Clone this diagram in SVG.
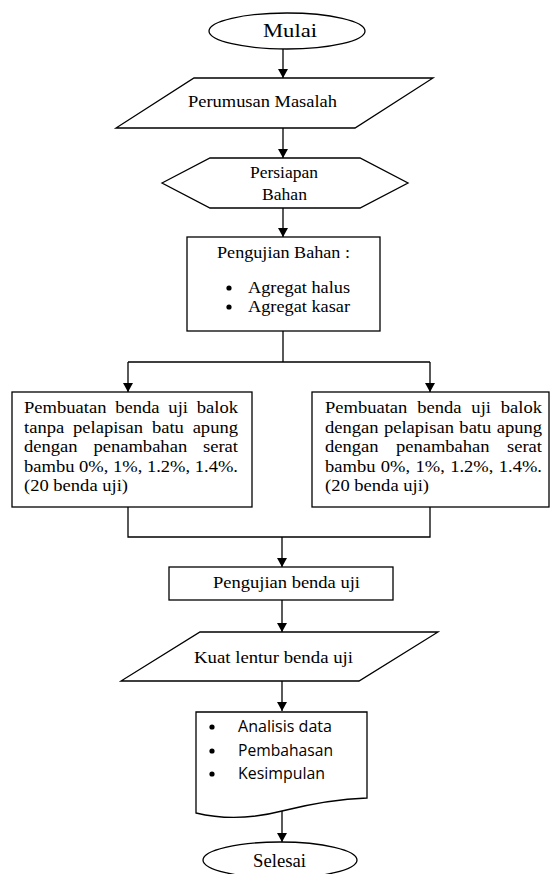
<svg xmlns="http://www.w3.org/2000/svg" width="550" height="874" viewBox="0 0 550 874">
<defs>
<marker id="arr" markerUnits="userSpaceOnUse" markerWidth="9" markerHeight="10" viewBox="0 0 9 10" refX="9" refY="5" orient="auto">
<path d="M0,0 L9,5 L0,10 z" fill="#000"/>
</marker>
</defs>
<style>
.shape{fill:#fff;stroke:#000;stroke-width:1.3}
.t{font-family:"Liberation Serif","Times New Roman",serif;font-size:17px;fill:#000}
.s{font-family:"Open Sans","Liberation Sans",sans-serif;font-size:15.5px;fill:#000}
.c{fill:none;stroke:#000;stroke-width:1.3}
.b{fill:#000}
</style>
<rect width="550" height="874" fill="#fff"/>
<g id="connectors">
<path class="c" d="M283,49 V78" marker-end="url(#arr)"/>
<path class="c" d="M283,128 V158" marker-end="url(#arr)"/>
<path class="c" d="M283,208 V237" marker-end="url(#arr)"/>
<path class="c" d="M283,331 V362 M128,362 H430"/>
<path class="c" d="M128,362 V392" marker-end="url(#arr)"/>
<path class="c" d="M430,362 V392" marker-end="url(#arr)"/>
<path class="c" d="M128,507 V537 H430 V507"/>
<path class="c" d="M282,537 V567" marker-end="url(#arr)"/>
<path class="c" d="M282,600 V632" marker-end="url(#arr)"/>
<path class="c" d="M282,681 V711" marker-end="url(#arr)"/>
<path class="c" d="M282,811 V842" marker-end="url(#arr)"/>
</g>
<g id="mulai">
<ellipse class="shape" cx="287" cy="31" rx="78" ry="18"/>
<text class="t" x="263" y="37" textLength="54" lengthAdjust="spacingAndGlyphs" style="font-size:18px">Mulai</text>
</g>
<g id="perumusan">
<polygon class="shape" points="194,78 433,78 355,128 116,128"/>
<text class="t" x="188" y="107" textLength="149" lengthAdjust="spacingAndGlyphs">Perumusan Masalah</text>
</g>
<g id="persiapan">
<polygon class="shape" points="162,183 210,158 360,158 408,183 360,208 210,208"/>
<text class="t" x="250" y="178" textLength="68" lengthAdjust="spacingAndGlyphs">Persiapan</text>
<text class="t" x="262" y="200" textLength="45" lengthAdjust="spacingAndGlyphs">Bahan</text>
</g>
<g id="pengujian-bahan">
<rect class="shape" x="187" y="237" width="193" height="94"/>
<text class="t" x="217" y="258" textLength="133" lengthAdjust="spacingAndGlyphs">Pengujian Bahan :</text>
<circle class="b" cx="229" cy="288" r="2.6"/>
<text class="t" x="248" y="293" textLength="102" lengthAdjust="spacingAndGlyphs">Agregat halus</text>
<circle class="b" cx="229" cy="307" r="2.6"/>
<text class="t" x="248" y="312" textLength="102" lengthAdjust="spacingAndGlyphs">Agregat kasar</text>
</g>
<g id="benda-tanpa">
<rect class="shape" x="12" y="392" width="240" height="115"/>
<text class="t" x="24" y="413" textLength="214" lengthAdjust="spacingAndGlyphs" word-spacing="3.8">Pembuatan benda uji balok</text>
<text class="t" x="24" y="432.5" textLength="214" lengthAdjust="spacingAndGlyphs" word-spacing="3.8">tanpa pelapisan batu apung</text>
<text class="t" x="24" y="452" textLength="214" lengthAdjust="spacingAndGlyphs" word-spacing="10.2">dengan penambahan serat</text>
<text class="t" x="24" y="471.5" textLength="214" lengthAdjust="spacingAndGlyphs">bambu 0%, 1%, 1.2%, 1.4%.</text>
<text class="t" x="24" y="491" textLength="104" lengthAdjust="spacingAndGlyphs">(20 benda uji)</text>
</g>
<g id="benda-dengan">
<rect class="shape" x="312" y="392" width="237" height="115"/>
<text class="t" x="325" y="413" textLength="217" lengthAdjust="spacingAndGlyphs" word-spacing="4.8">Pembuatan benda uji balok</text>
<text class="t" x="325" y="432.5" textLength="217" lengthAdjust="spacingAndGlyphs" word-spacing="0.7">dengan pelapisan batu apung</text>
<text class="t" x="325" y="452" textLength="217" lengthAdjust="spacingAndGlyphs" word-spacing="11.7">dengan penambahan serat</text>
<text class="t" x="325" y="471.5" textLength="217" lengthAdjust="spacingAndGlyphs" word-spacing="0.7">bambu 0%, 1%, 1.2%, 1.4%.</text>
<text class="t" x="325" y="491" textLength="104" lengthAdjust="spacingAndGlyphs">(20 benda uji)</text>
</g>
<g id="pengujian-benda">
<rect class="shape" x="169" y="567" width="224" height="33"/>
<text class="t" x="213" y="588" textLength="147" lengthAdjust="spacingAndGlyphs">Pengujian benda uji</text>
</g>
<g id="kuat-lentur">
<polygon class="shape" points="200,632 438,632 359,681 121,681"/>
<text class="t" x="194" y="663" textLength="159" lengthAdjust="spacingAndGlyphs">Kuat lentur benda uji</text>
</g>
<g id="analisis">
<path class="shape" d="M196,712 H367 V798 C335,799 310,804 282,811 C255,818 225,820 196,813 Z"/>
<circle class="b" cx="212" cy="727" r="2.6"/>
<text class="s" x="238" y="732" textLength="94" lengthAdjust="spacingAndGlyphs">Analisis data</text>
<circle class="b" cx="212" cy="751" r="2.6"/>
<text class="s" x="238" y="756" textLength="95" lengthAdjust="spacingAndGlyphs">Pembahasan</text>
<circle class="b" cx="212" cy="774" r="2.6"/>
<text class="s" x="238" y="779" textLength="87" lengthAdjust="spacingAndGlyphs">Kesimpulan</text>
</g>
<g id="selesai">
<ellipse class="shape" cx="280" cy="860" rx="77" ry="18"/>
<text class="t" x="253" y="867" textLength="53" lengthAdjust="spacingAndGlyphs" style="font-size:18px">Selesai</text>
</g>
</svg>
